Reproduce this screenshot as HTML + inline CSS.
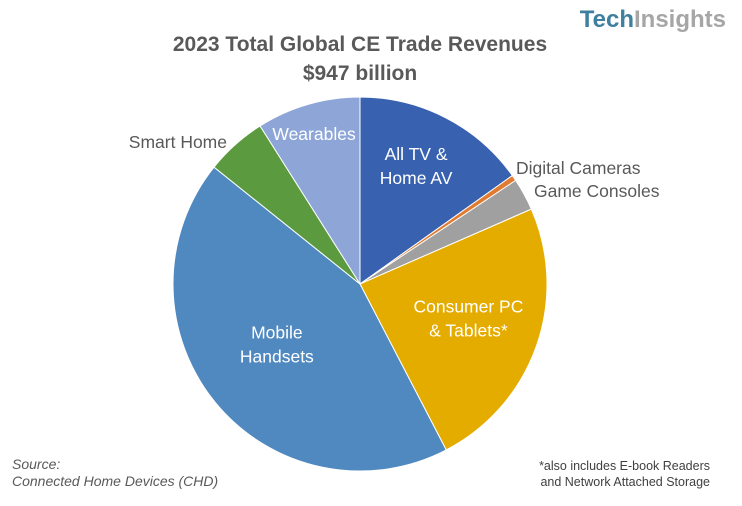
<!DOCTYPE html>
<html><head><meta charset="utf-8"><style>
body{margin:0;width:742px;height:501px;background:#fff;overflow:hidden;font-family:"Liberation Sans",sans-serif}
</style></head><body>
<svg width="742" height="501">
<text x="360" y="51" text-anchor="middle" font-size="21" font-weight="bold" fill="#595959">2023 Total Global CE Trade Revenues</text>
<text x="360" y="80" text-anchor="middle" font-size="21" font-weight="bold" fill="#595959">$947 billion</text>
<text x="726" y="27" text-anchor="end" font-size="24" font-weight="bold"><tspan fill="#3f7f9f">Tech</tspan><tspan fill="#a6a6a6">Insights</tspan></text>
<g id="slices"></g>
<g id="labels" font-size="17.5"></g>
<text x="12" y="469" font-size="14" font-style="italic" fill="#595959">Source:</text>
<text x="12" y="486" font-size="14" font-style="italic" fill="#595959">Connected Home Devices (CHD)</text>
<text x="710" y="470" text-anchor="end" font-size="12.5" fill="#404040">*also includes E-book Readers</text>
<text x="710" y="486" text-anchor="end" font-size="12.5" fill="#404040">and Network Attached Storage</text>
</svg>
<script>
const categories=["All TV & Home AV","Digital Cameras","Game Consoles","Consumer PC & Tablets*","Mobile Handsets","Smart Home","Wearables"];
const values=[15.2,0.5,2.8,24.0,43.5,5.3,9.0];
const colors=["#3862B0","#E07B31","#A0A0A0","#E5AC00","#4F89C0","#5B9A3E","#8EA5D8"];
const cx=360,cy=284,r=187;
const ns="http://www.w3.org/2000/svg";
const total=values.reduce((a,b)=>a+b,0);
const g=document.getElementById('slices');
function pt(a,rr){return [cx+rr*Math.sin(a),cy-rr*Math.cos(a)];}
let acc=0;const mids=[];
values.forEach((v,i)=>{
 const a0=acc/total*2*Math.PI;acc+=v;const a1=acc/total*2*Math.PI;
 mids.push((a0+a1)/2);
 const p0=pt(a0,r),p1=pt(a1,r);
 const p=document.createElementNS(ns,'path');
 p.setAttribute('d',`M${cx},${cy}L${p0[0]},${p0[1]}A${r},${r} 0 ${a1-a0>Math.PI?1:0} 1 ${p1[0]},${p1[1]}Z`);
 p.setAttribute('fill',colors[i]);p.setAttribute('stroke','#fff');p.setAttribute('stroke-width','1');
 
 
 g.appendChild(p);
});
const lg=document.getElementById('labels');
function lab(lines,x,y,fill,anchor,name){
 lines.forEach((s,k)=>{const t=document.createElementNS(ns,'text');
 t.setAttribute('x',x);t.setAttribute('y',y+k*24);t.setAttribute('text-anchor',anchor);t.setAttribute('fill',fill);
 
 
 t.textContent=s;lg.appendChild(t);});
}
function inner(i,rr,dy){const p=pt(mids[i],rr);return [p[0],p[1]+dy];}
let q=inner(0,118,-19);lab(["All TV &","Home AV"],q[0]+2,q[1],"#fff","middle","label-tv");
lab(["Digital Cameras"],516,174,"#595959","start","label-cameras");
lab(["Game Consoles"],534,197,"#595959","start","label-consoles");
q=inner(3,115,-10);lab(["Consumer PC","& Tablets*"],q[0],q[1],"#fff","middle","label-pc");
q=inner(4,105,-12);lab(["Mobile","Handsets"],q[0]-2,q[1],"#fff","middle","label-mobile");
lab(["Smart Home"],227,148,"#595959","end","label-smart-home");
q=inner(6,158,8);lab(["Wearables"],q[0]-2,q[1],"#fff","middle","label-wearables");
</script>
</body></html>
